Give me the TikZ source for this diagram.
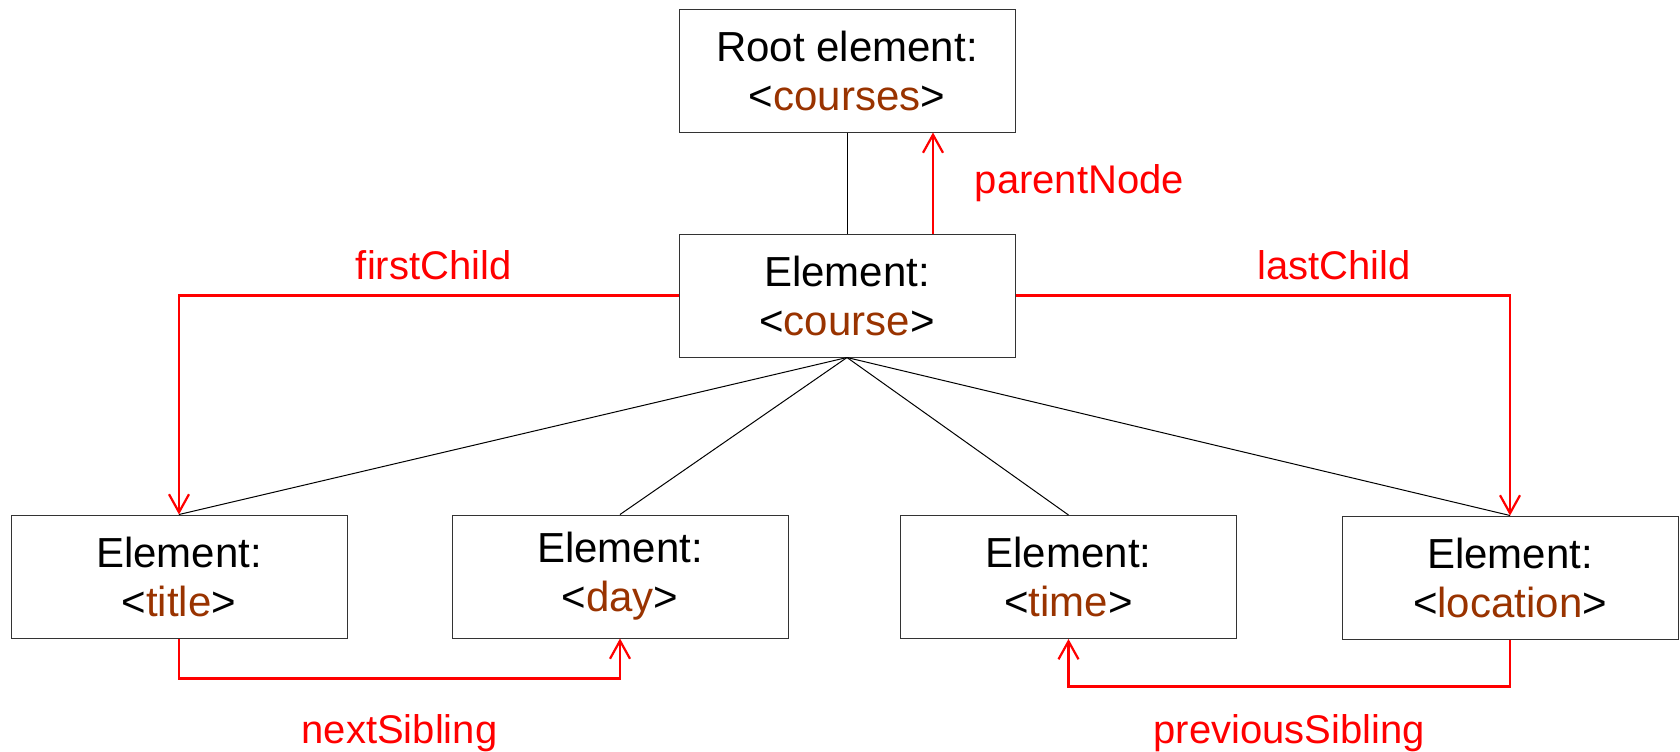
\documentclass[tikz,border=0pt]{standalone}
\definecolor{tagbrown}{RGB}{153,51,0}
\definecolor{linkred}{RGB}{255,0,0}
\usepackage{fontspec}
\setmainfont{Liberation Sans}
\usepackage{tikz}
\usetikzlibrary{arrows.meta,positioning,calc}
\newcommand{\tagname}[1]{<\textcolor{tagbrown}{#1}>}

\begin{document}
\begin{tikzpicture}[x=0.5pt,y=-0.5pt,
    elem/.style={draw=black!80,line width=0.5pt,minimum width=168pt,minimum height=61.5pt,
        inner sep=0pt,align=center,font=\fontsize{21}{24.5}\selectfont},
    tree/.style={line width=0.5pt},
    link/.style={draw=linkred,line width=1.1pt,-{Straight Barb[length=9pt,width=10pt]}},
    linklabel/.style={text=linkred,font=\fontsize{20}{24}\selectfont}]
    \useasboundingbox (0,0) rectangle (1680,751);

    % Root and its child
    \node[elem] (root) at (847,70.5) {Root element:\\\tagname{courses}};
    \node[elem] (course) at (847,295.5) {Element:\\\tagname{course}};

    % Child elements
    \node[elem] (title) at (179,576.5) {Element:\\\tagname{title}};
    \node[elem] (day) at (620,576.5) {Element:\\\tagname{day}};
    \node[elem] (time) at (1068.5,577) {Element:\\\tagname{time}};
    \node[elem] (location) at (1510,577.5) {Element:\\\tagname{location}};

    % Tree edges
    \draw[tree] (root) -- (course);
    \foreach \c in {title,day,time,location} {
        \draw[tree] (course.south) -- (\c.north);
    }

    % Navigation properties
    \draw[link] ([xshift=43pt]course.north) -- node[linklabel,right=17pt] {parentNode} ([xshift=43pt]root.south);
    \draw[link] (course.west) -| node[linklabel,pos=0.245,above=4pt] {firstChild} (title.north);
    \draw[link] (course.east) -| node[linklabel,pos=0.322,above=4pt] {lastChild} (location.north);
    \draw[link] (title.south) -- ++(0,40) -| node[linklabel,pos=0.25,below=14pt] {nextSibling} (day.south);
    \draw[link] (location.south) -- ++(0,47) -| node[linklabel,pos=0.25,below=10pt] {previousSibling} (time.south);
\end{tikzpicture}
\end{document}
